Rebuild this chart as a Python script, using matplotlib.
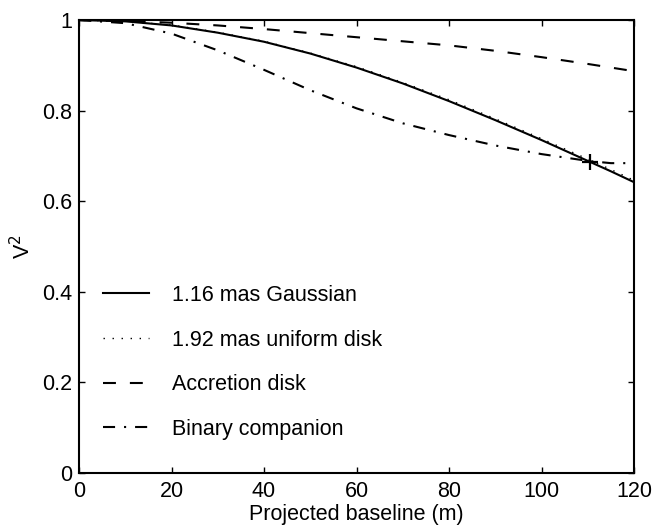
import matplotlib
matplotlib.use("Agg")
import matplotlib.pyplot as plt

plt.rcParams['font.family'] = ['Liberation Sans', 'DejaVu Sans']

baseline = [0, 10, 20, 30, 40, 50, 60, 70, 80, 90, 100, 110, 115, 120]
gaussian = [1.0, 0.997, 0.988, 0.972, 0.952, 0.926, 0.895, 0.860, 0.821, 0.779, 0.735, 0.689, 0.666, 0.642]
uniform_disk = [1.0, 0.997, 0.989, 0.973, 0.953, 0.927, 0.897, 0.862, 0.824, 0.782, 0.738, 0.693, 0.670, 0.646]
accretion = [1.0, 0.998, 0.994, 0.988, 0.980, 0.971, 0.962, 0.953, 0.944, 0.932, 0.918, 0.903, 0.895, 0.887]
binary = [1.0, 0.993, 0.970, 0.933, 0.890, 0.845, 0.805, 0.772, 0.746, 0.723, 0.704, 0.689, 0.684, 0.684]
point_x = [110.5]
point_y = [0.686]

labels = ["1.16 mas Gaussian", "1.92 mas uniform disk", "Accretion disk", "Binary companion"]

fs = 15.5
fig = plt.figure(figsize=(6.55, 5.29), dpi=100)
ax = fig.add_axes([79 / 655, 1 - 473 / 529, 555 / 655, 453 / 529])

lw = 1.5
ax.plot(baseline, gaussian, color='black', lw=lw, ls='-', label=labels[0])
ax.plot(baseline, uniform_disk, color='black', lw=1.0, ls=(0, (1, 5.5)), label=labels[1])
ax.plot(baseline, accretion, color='black', lw=lw, ls=(0, (6.2, 6.7)), label=labels[2])
ax.plot(baseline, binary, color='black', lw=lw, ls=(0, (5.8, 4.3, 1, 4.3)), label=labels[3])
ax.plot(point_x, point_y, color='black', marker='+', markersize=12, mew=1.6, ls='none')

ax.set_xlim(0, 120)
ax.set_ylim(0, 1)
ax.set_xticks([0, 20, 40, 60, 80, 100, 120])
ax.set_yticks([0, 0.2, 0.4, 0.6, 0.8, 1])
ax.set_yticklabels(['0', '0.2', '0.4', '0.6', '0.8', '1'])
ax.tick_params(direction='in', top=True, right=True, labelsize=fs, length=4, width=1.0)
ax.tick_params(axis='y', pad=5)
ax.tick_params(axis='x', pad=6)
for s in ax.spines.values():
    s.set_linewidth(1.5)
ax.set_xlabel('Projected baseline (m)', fontsize=fs, labelpad=1)
ax.set_ylabel('V$^2$', fontsize=fs, labelpad=5)

ax.legend(loc='lower left', bbox_to_anchor=(0.043, 0.073), frameon=False, fontsize=fs,
          handlelength=2.15, handletextpad=1.05, labelspacing=1.1, borderpad=0, borderaxespad=0)

fig.savefig('out.png', dpi=100)
